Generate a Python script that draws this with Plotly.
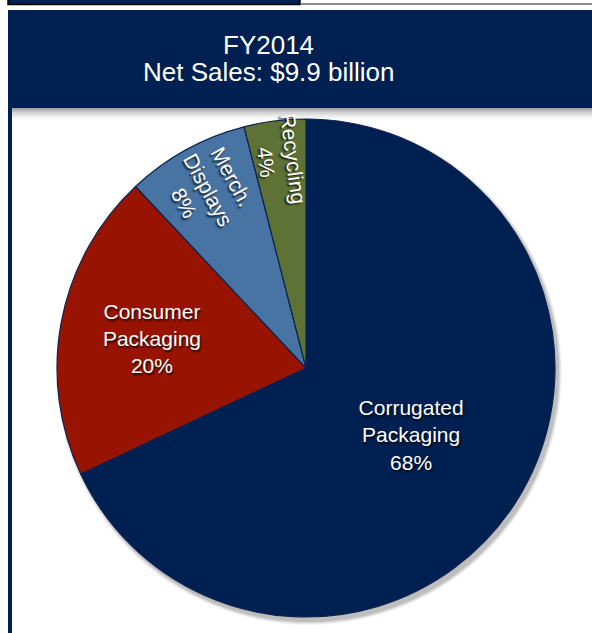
import plotly.graph_objects as go

segments = ["Corrugated Packaging", "Consumer Packaging", "Merch. Displays", "Recycling"]
shares = [68, 20, 8, 4]
label_lines = ["Corrugated<br>Packaging", "Consumer<br>Packaging", "Merch.<br>Displays", "Recycling"]
colors = ["#002052", "#991400", "#4874A3", "#5F7236"]
title_lines = ["FY2014", "Net Sales: $9.9 billion"]

W, H = 592, 633
NAVY = "#002052"

# horizontal labels for the big slices, radial labels for the small ones
horiz_text = [f"{l}<br>{v}%" if v >= 15 else "" for l, v in zip(label_lines, shares)]
radial_text = [f"{l}<br>{v}%" if v < 15 else "" for l, v in zip(label_lines, shares)]

cx, cy, r = 306, 368, 249
dom_x = [(cx - r) / W, (cx + r) / W]
dom_y = [(H - cy - r) / H, (H - cy + r) / H]

FONT_FAMILY = "Liberation Sans, Arial, sans-serif"
font = dict(family=FONT_FAMILY, color="white", size=21,
            shadow="1px 2px 2px rgba(0,0,0,0.8)")


def px_y(y):
    return 1 - y / H


def px_x(x):
    return x / W


fig = go.Figure()
fig.add_trace(go.Pie(
    labels=segments, values=shares, sort=False, direction="clockwise", rotation=0,
    marker=dict(colors=colors, line=dict(color="#0d2350", width=1.2)),
    text=horiz_text, textinfo="text", textposition="inside",
    insidetextorientation="horizontal", textfont=font,
    domain=dict(x=dom_x, y=dom_y), showlegend=False, hoverinfo="skip",
))
fig.add_trace(go.Pie(
    labels=segments, values=shares, sort=False, direction="clockwise", rotation=0,
    marker=dict(colors=["rgba(0,0,0,0)"] * len(shares), line=dict(width=0)),
    text=radial_text, textinfo="text", textposition="inside",
    insidetextorientation="radial", textfont=font,
    domain=dict(x=dom_x, y=dom_y), showlegend=False, hoverinfo="skip",
))

shapes = []
# top strip
shapes.append(dict(type="rect", xref="paper", yref="paper", x0=px_x(8), x1=px_x(300), y0=px_y(4.5), y1=px_y(-2),
                   fillcolor=NAVY, line=dict(color="black", width=1.5), layer="above"))
shapes.append(dict(type="line", xref="paper", yref="paper", x0=px_x(300), x1=1, y0=px_y(4), y1=px_y(4),
                   line=dict(color="#666666", width=1.5), layer="above"))
# header shadow
for i, op in enumerate([0.35, 0.25, 0.17, 0.1, 0.05, 0.02]):
    shapes.append(dict(type="rect", xref="paper", yref="paper", x0=px_x(12), x1=1,
                       y0=px_y(108 + 2 * (i + 1)), y1=px_y(108 + 2 * i),
                       fillcolor=f"rgba(0,0,0,{op})", line=dict(width=0), layer="below"))
# pie shadow (decorative soft circles)
for i, op in enumerate([0.10, 0.08, 0.06, 0.04]):
    rr = r + 1 + i
    shapes.append(dict(type="circle", xref="paper", yref="paper",
                       x0=px_x(cx + 3 - rr), x1=px_x(cx + 3 + rr),
                       y0=px_y(cy + 4 + rr), y1=px_y(cy + 4 - rr),
                       fillcolor=f"rgba(0,0,0,{op})", line=dict(width=0), layer="below"))
# header box
shapes.append(dict(type="rect", xref="paper", yref="paper", x0=px_x(8), x1=1.01, y0=px_y(108), y1=px_y(10),
                   fillcolor=NAVY, line=dict(width=0), layer="below"))
# left strip
shapes.append(dict(type="rect", xref="paper", yref="paper", x0=px_x(8), x1=px_x(12), y0=-0.01, y1=px_y(10),
                   fillcolor=NAVY, line=dict(width=0), layer="below"))

title_font = dict(family=FONT_FAMILY, size=26, color="white")
annotations = [
    dict(text=title_lines[0], xref="paper", yref="paper", x=px_x(268), y=px_y(45),
         xanchor="center", yanchor="middle", showarrow=False, font=title_font),
    dict(text=title_lines[1], xref="paper", yref="paper", x=px_x(268), y=px_y(72),
         xanchor="center", yanchor="middle", showarrow=False, font=title_font),
]

fig.update_layout(
    width=W, height=H, margin=dict(l=0, r=0, t=0, b=0),
    paper_bgcolor="white", plot_bgcolor="white",
    shapes=shapes, annotations=annotations,
    uniformtext=dict(minsize=21, mode="show"),
)

fig.write_html("out.html", config={"displayModeBar": False},
               post_script="document.body.style.margin='0';document.body.style.overflow='hidden';")
